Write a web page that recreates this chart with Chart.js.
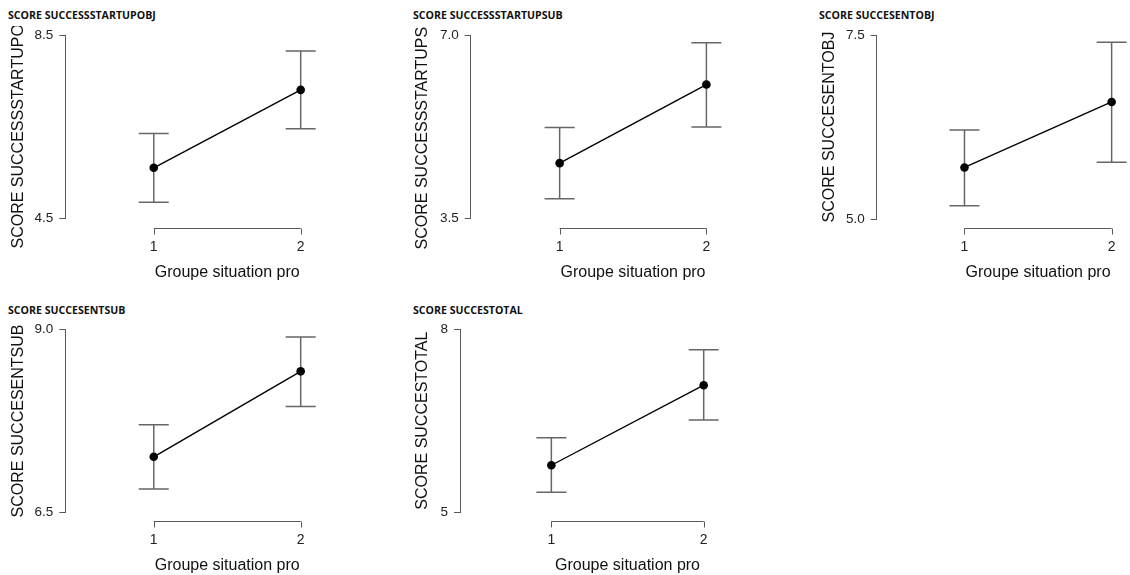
<!DOCTYPE html>
<html>
<head>
<meta charset="utf-8">
<script src="https://cdn.jsdelivr.net/npm/chart.js@4/dist/chart.umd.min.js"></script>
<style>
  html, body { margin: 0; padding: 0; background: #ffffff; }
  #page { position: relative; width: 1130px; height: 575px; overflow: hidden; background: #fff; }
  .ptitle { position: absolute; font-family: "Open Sans", sans-serif; font-weight: 700; font-size: 10.6px; line-height: 12px; color: #111; white-space: nowrap; }
  canvas { position: absolute; }
</style>
</head>
<body>
<div id="page"></div>
<script>
// ---------- data ----------
const groups = [1, 2];
const xTickLabels = ['1', '2'];
const xTitle = 'Groupe situation pro';

const panelTitles = ['SCORE SUCCESSSTARTUPOBJ', 'SCORE SUCCESSSTARTUPSUB', 'SCORE SUCCESENTOBJ', 'SCORE SUCCESENTSUB', 'SCORE SUCCESTOTAL'];
const yTitles = ['SCORE SUCCESSSTARTUPOBJ', 'SCORE SUCCESSSTARTUPSUB', 'SCORE SUCCESENTOBJ', 'SCORE SUCCESENTSUB', 'SCORE SUCCESTOTAL'];

const meanStartupObj = [5.61, 7.31];
const lowStartupObj  = [4.86, 6.46];
const highStartupObj = [6.36, 8.16];

const meanStartupSub = [4.56, 6.06];
const lowStartupSub  = [3.88, 5.25];
const highStartupSub = [5.24, 6.86];

const meanEntObj = [5.70, 6.59];
const lowEntObj  = [5.18, 5.77];
const highEntObj = [6.21, 7.40];

const meanEntSub = [7.26, 8.43];
const lowEntSub  = [6.82, 7.95];
const highEntSub = [7.70, 8.90];

const meanTotal = [5.77, 7.08];
const lowTotal  = [5.33, 6.51];
const highTotal = [6.22, 7.66];

const yTicksStartupObj = [4.5, 8.5];
const yTicksStartupSub = [3.5, 7.0];
const yTicksEntObj = [5.0, 7.5];
const yTicksEntSub = [6.5, 9.0];
const yTicksTotal = [5, 8];

const yTickLabelsStartupObj = ['4.5', '8.5'];
const yTickLabelsStartupSub = ['3.5', '7.0'];
const yTickLabelsEntObj = ['5.0', '7.5'];
const yTickLabelsEntSub = ['6.5', '9.0'];
const yTickLabelsTotal = ['5', '8'];

const seriesSets = [
  {mean: meanStartupObj, low: lowStartupObj, high: highStartupObj, ticks: yTicksStartupObj, tickLabels: yTickLabelsStartupObj},
  {mean: meanStartupSub, low: lowStartupSub, high: highStartupSub, ticks: yTicksStartupSub, tickLabels: yTickLabelsStartupSub},
  {mean: meanEntObj, low: lowEntObj, high: highEntObj, ticks: yTicksEntObj, tickLabels: yTickLabelsEntObj},
  {mean: meanEntSub, low: lowEntSub, high: highEntSub, ticks: yTicksEntSub, tickLabels: yTickLabelsEntSub},
  {mean: meanTotal, low: lowTotal, high: highTotal, ticks: yTicksTotal, tickLabels: yTickLabelsTotal}
];

// ---------- layout (panel-relative pixels) ----------
const layouts = [
  {left: 0,   top: 0,   w: 376, h: 290, axisX: 65.3,  yTop: 35.3, yBot: 218.7, x1: 155,   x2: 304,   titleX: 8,  yTitleX: 18.5},
  {left: 380, top: 0,   w: 376, h: 290, axisX: 90.7,  yTop: 35.3, yBot: 218.7, x1: 181,   x2: 330,   titleX: 33, yTitleX: 42.7},
  {left: 760, top: 0,   w: 370, h: 290, axisX: 116.7, yTop: 35,   yBot: 219,   x1: 206,   x2: 355.7, titleX: 59, yTitleX: 70},
  {left: 0,   top: 295, w: 376, h: 280, axisX: 65.3,  yTop: 34.7, yBot: 217.3, x1: 155,   x2: 304,   titleX: 8,  yTitleX: 18.5},
  {left: 380, top: 295, w: 376, h: 280, axisX: 80,    yTop: 34,   yBot: 217.3, x1: 172.7, x2: 327.3, titleX: 33, yTitleX: 43}
];
const CANVAS_TOP = 26;
const AXIS_COLOR = '#5a5a5a';
const ERR_COLOR = '#666666';
const TEXT_COLOR = '#222';
const FONT = '"Liberation Sans", Arial, sans-serif';

const errorBarPlugin = {
  id: 'errorBars',
  beforeDatasetsDraw(chart, args, opts) {
    const ctx = chart.ctx;
    const xs = chart.scales.x, ys = chart.scales.y;
    ctx.save();
    ctx.strokeStyle = ERR_COLOR;
    ctx.lineWidth = 1.5;
    opts.xs.forEach((xv, i) => {
      const px = xs.getPixelForValue(xv);
      const pl = ys.getPixelForValue(opts.low[i]);
      const ph = ys.getPixelForValue(opts.high[i]);
      ctx.beginPath();
      ctx.moveTo(px, pl); ctx.lineTo(px, ph);
      ctx.moveTo(px - 15, pl); ctx.lineTo(px + 15, pl);
      ctx.moveTo(px - 15, ph); ctx.lineTo(px + 15, ph);
      ctx.stroke();
    });
    ctx.restore();
  }
};

const xAxisPlugin = {
  id: 'rXAxis',
  afterDraw(chart, args, opts) {
    const ctx = chart.ctx;
    const xs = chart.scales.x;
    const area = chart.chartArea;
    const p1 = xs.getPixelForValue(opts.values[0]);
    const p2 = xs.getPixelForValue(opts.values[opts.values.length - 1]);
    const yLine = Math.round(area.bottom + 9) + 0.5;
    ctx.save();
    ctx.strokeStyle = AXIS_COLOR;
    ctx.lineWidth = 1;
    ctx.beginPath();
    ctx.moveTo(p1, yLine); ctx.lineTo(p2, yLine);
    opts.values.forEach(v => {
      const px = Math.round(xs.getPixelForValue(v)) + 0.5;
      ctx.moveTo(px, yLine); ctx.lineTo(px, yLine + 6);
    });
    ctx.stroke();
    ctx.fillStyle = TEXT_COLOR;
    ctx.font = '14px ' + FONT;
    ctx.textAlign = 'center';
    ctx.textBaseline = 'middle';
    opts.values.forEach((v, i) => {
      ctx.fillText(opts.labels[i], xs.getPixelForValue(v), yLine + 19);
    });
    ctx.fillStyle = '#111';
    ctx.font = '16px ' + FONT;
    ctx.fillText(opts.title, (p1 + p2) / 2, yLine + 44);
    ctx.restore();
  }
};

const page = document.getElementById('page');

layouts.forEach((L, k) => {
  const S = seriesSets[k];
  const t = document.createElement('div');
  t.className = 'ptitle';
  t.style.left = (L.left + L.titleX) + 'px';
  t.style.top = (L.top + 14.7 - 6) + 'px';
  t.textContent = panelTitles[k];
  page.appendChild(t);

  const cw = L.w, ch = L.h - CANVAS_TOP;
  const cv = document.createElement('canvas');
  cv.width = cw; cv.height = ch;
  cv.style.left = L.left + 'px';
  cv.style.top = (L.top + CANVAS_TOP) + 'px';
  cv.style.width = cw + 'px'; cv.style.height = ch + 'px';
  page.appendChild(cv);

  const padLeft = L.yTitleX - 9.6;
  const yWidth = L.axisX - padLeft;
  const ppu = L.x2 - L.x1;
  const xMin = groups[0] - (L.x1 - L.axisX) / ppu;
  const xMax = groups[1] + (cw - L.x2) / ppu;

  new Chart(cv, {
    type: 'line',
    data: {
      datasets: [{
        data: groups.map((g, i) => ({x: g, y: S.mean[i]})),
        borderColor: '#000',
        borderWidth: 1.4,
        pointRadius: 4.3,
        pointBackgroundColor: '#000',
        pointBorderColor: '#000',
        pointBorderWidth: 0,
        fill: false,
        tension: 0,
        clip: false
      }]
    },
    options: {
      responsive: false,
      animation: false,
      devicePixelRatio: 1,
      layout: {padding: {left: padLeft, right: 0, top: L.yTop - CANVAS_TOP, bottom: L.h - L.yBot}},
      plugins: {
        legend: {display: false},
        tooltip: {enabled: false},
        errorBars: {xs: groups, low: S.low, high: S.high},
        rXAxis: {values: groups, labels: xTickLabels, title: xTitle}
      },
      scales: {
        x: {type: 'linear', display: false, min: xMin, max: xMax},
        y: {
          type: 'linear',
          min: S.ticks[0], max: S.ticks[1],
          afterBuildTicks: (axis) => { axis.ticks = S.ticks.map(v => ({value: v})); },
          afterFit: (axis) => { axis.width = yWidth; axis.paddingTop = 0; axis.paddingBottom = 0; },
          border: {display: true, color: AXIS_COLOR, width: 1},
          grid: {display: true, drawOnChartArea: false, drawTicks: true, tickLength: 6, color: AXIS_COLOR},
          ticks: {
            color: TEXT_COLOR, padding: 6,
            font: {family: FONT, size: 13.5},
            callback: (value) => { const i = S.ticks.indexOf(value); return i >= 0 ? S.tickLabels[i] : ''; }
          },
          title: {display: true, text: yTitles[k], color: '#111', padding: 0, font: {family: FONT, size: 16}}
        }
      }
    },
    plugins: [errorBarPlugin, xAxisPlugin]
  });
});
</script>
</body>
</html>
